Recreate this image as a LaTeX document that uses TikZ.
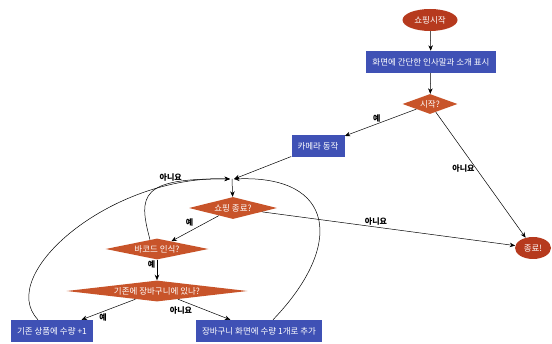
\documentclass[tikz,border=0pt]{standalone}
\usepackage{fontspec}
\setmainfont{Noto Sans CJK KR}
\usepackage{tikz}
\usetikzlibrary{shapes.geometric, arrows.meta}
\usetikzlibrary{calc}
\definecolor{termred}{RGB}{182,58,30}
\definecolor{stepblue}{RGB}{63,81,181}
\definecolor{askorange}{RGB}{200,84,42}
\tikzset{
every picture/.style={line width=0.5pt, >={Stealth[length=5.5pt,width=4.5pt]}},
%%%%%%%%%%  Node styles
terminal/.style={ellipse, fill=termred, text=white, inner sep=0pt,
                 minimum height=22pt, font=\fontsize{8.5}{10}\selectfont},
process/.style={rectangle, fill=stepblue, text=white, inner xsep=6pt,
                minimum height=22pt, font=\fontsize{8.5}{10}\selectfont},
decision/.style={diamond, fill=askorange, text=white, inner sep=0pt, aspect=4,
                 font=\fontsize{8.5}{10}\selectfont},
%%%%%%%% edge labels
lbl/.style={text=black, inner sep=1.5pt, font=\bfseries\fontsize{8}{9}\selectfont},
flow/.style={->}
}

\begin{document}
\begin{tikzpicture}[x=1pt,y=-1pt]
\useasboundingbox (0,0) rectangle (552,344);
%% nodes
\node[terminal, minimum width=55pt] (start) at (430,20) {쇼핑시작};
\node[process] (intro) at (431,62) {화면에 간단한 인사말과 소개 표시};
\node[decision, minimum width=55pt, minimum height=20pt] (begin) at (430,104) {시작?};
\node[process] (camera) at (318,146) {카메라 동작};
\node[terminal, minimum width=36pt] (finish) at (533,248) {종료!};
\coordinate (join) at (232,179);
\node[decision, minimum width=88pt, minimum height=22pt] (quit) at (233,208) {쇼핑 종료?};
\node[decision, minimum width=103pt, minimum height=21pt] (scan) at (157,249) {바코드 인식?};
\node[decision, aspect=10, minimum width=181pt, minimum height=21pt] (incart) at (157,291) {기존에 장바구니에 있나?};
\node[process] (addone) at (52,331) {기존 상품에 수량 +1};
\node[process] (addnew) at (259,331) {장바구니 화면에 수량 1개로 추가};
%% main flow
\draw[flow] (start) -- (intro);
\draw[flow] (intro) -- (begin);
\draw[flow] (begin) -- node[lbl, pos=0.55, above] {예} (camera);
\draw[flow] (begin) -- node[lbl, pos=0.45, left] {아니요} (finish);
\draw[flow] (camera) -- ([xshift=2pt]join);
\draw[flow] (join) -- (quit);
\draw[flow] (quit) -- node[lbl, above left] {예} (scan);
\draw[flow] (quit) -- node[lbl, pos=0.45, above] {아니요} (finish);
\draw[flow] (scan) -- node[lbl, pos=0.25, left] {예} (incart);
\draw[flow] (incart) -- node[lbl, pos=0.6, below] {예} (addone);
\draw[flow] (incart) -- node[lbl, pos=0.3, below left] {아니요} (addnew);
%% loops back to the join
\draw[flow] ([xshift=-7pt,yshift=-1.5pt]scan.north)
	.. controls (138,195) and (140,178) .. node[lbl, pos=0.7, above] {아니요} ([xshift=-2pt]join);
\draw[flow] ([xshift=-14pt]addone.north)
	.. controls (-5,275) and (110,175) .. ([xshift=-2pt]join);
\draw[flow] ([xshift=14pt]addnew.north)
	.. controls (345,245) and (335,175) .. ([xshift=2pt]join);
\end{tikzpicture}
\end{document}
